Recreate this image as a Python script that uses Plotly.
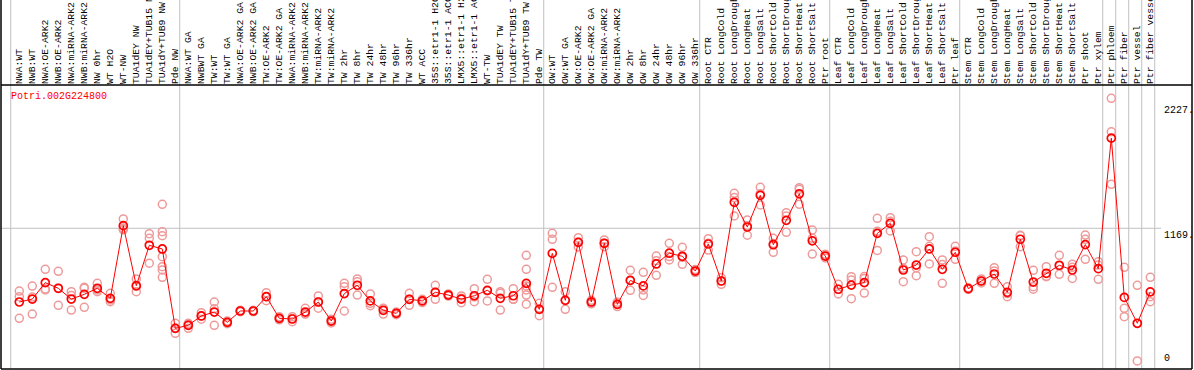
import plotly.graph_objects as go

gene = "Potri.002G224800"

labels = [
    "NWA:WT", "NWB:WT", "NWA:OE-ARK2", "NWB:OE-ARK2", "NWA:miRNA-ARK2", "NWB:miRNA-ARK2",
    "NW 0hr", "WT H2O", "WT-NW", "TUA1dEY NW", "TUA1dEY+TUB15 NW", "TUA1dY+TUB9 NW", "Pde NW",
    "NWA:WT GA", "NWBWT GA", "TW:WT", "TW:WT GA", "NWA:OE-ARK2 GA", "NWB:OE-ARK2 GA",
    "TW:OE-ARK2", "TW:OE-ARK2 GA", "NWA:miRNA-ARK2", "NWB:miRNA-ARK2", "TW:miRNA-ARK2",
    "TW:miRNA-ARK2", "TW 2hr", "TW 8hr", "TW 24hr", "TW 48hr", "TW 96hr", "TW 336hr", "WT ACC",
    "35S::etr1-1 H2O", "35S::etr1-1 ACC", "LMX5::etr1-1 H2O", "LMX5::etr1-1 ACC", "WT-TW",
    "TUA1dEY TW", "TUA1dEY+TUB15 TW", "TUA1dY+TUB9 TW", "Pde TW",
    "OW:WT", "OW:WT GA", "OW:OE-ARK2", "OW:OE-ARK2 GA", "OW:miRNA-ARK2", "OW:miRNA-ARK2",
    "OW 2hr", "OW 8hr", "OW 24hr", "OW 48hr", "OW 96hr", "OW 336hr",
    "Root CTR", "Root LongCold", "Root LongDrought", "Root LongHeat", "Root LongSalt",
    "Root ShortCold", "Root ShortDrought", "Root ShortHeat", "Root ShortSalt", "Ptr root",
    "Leaf CTR", "Leaf LongCold", "Leaf LongDrought", "Leaf LongHeat", "Leaf LongSalt",
    "Leaf ShortCold", "Leaf ShortDrought", "Leaf ShortHeat", "Leaf ShortSalt", "Ptr leaf",
    "Stem CTR", "Stem LongCold", "Stem LongDrought", "Stem LongHeat", "Stem LongSalt",
    "Stem ShortCold", "Stem ShortDrought", "Stem ShortHeat", "Stem ShortSalt", "Ptr shoot",
    "Ptr xylem", "Ptr phloem", "Ptr fiber", "Ptr vessel", "Ptr fiber vessel",
]

group_sizes = [13, 28, 12, 10, 10, 11, 1, 1, 1, 1]

means = [
    545, 570, 709, 661, 570, 610, 661, 576, 1191, 683, 1025, 994, 322,
    348, 427, 460, 373, 469, 469, 590, 407, 401, 460, 545, 384, 616, 687, 554, 475, 449,
    568, 554, 627, 604, 570, 598, 644, 576, 598, 703, 483,
    957, 559, 1050, 545, 1042, 525, 728, 681, 867, 958, 932, 807,
    1036, 723, 1389, 1180, 1448, 1030, 1236, 1461, 1063, 934,
    653, 688, 709, 1126, 1211, 816, 858, 994, 822, 966,
    658, 723, 782, 627, 1076, 714, 788, 856, 816, 1031, 827,
    1932, 584, 365, 631,
]

replicates = [
    [638, 590, 407], [680, 587, 443], [822, 655, 647], [805, 661, 517], [632, 600, 477],
    [661, 670, 500], [703, 647, 632], [619, 562, 548], [1248, 1156, 1169], [740, 677, 632],
    [1123, 1084, 873], [1372, 1140, 1106, 929, 844, 816, 754], [365, 322, 280],
    [365, 357, 322], [455, 427, 399], [545, 487, 348], [385, 373, 361], [475, 469, 463],
    [475, 469, 463], [624, 590, 556], [420, 407, 394], [421, 404, 378], [492, 445, 443],
    [596, 545, 493], [400, 384, 368], [703, 675, 469], [740, 717, 604], [613, 534, 514],
    [492, 490, 443], [460, 449, 438], [619, 568, 517], [568, 554, 540], [686, 627, 568],
    [613, 604, 595], [596, 576, 539], [658, 588, 548], [737, 640, 554], [632, 619, 477],
    [658, 568, 568], [940, 822, 680, 647, 604, 527], [534, 486, 429],
    [1126, 1076, 669], [632, 562, 483], [1089, 1050, 1011], [560, 545, 530],
    [1070, 1042, 1013], [544, 525, 506], [813, 728, 644], [796, 647, 601], [934, 895, 771],
    [1042, 930, 901], [1008, 924, 864], [820, 807, 794],
    [1081, 1042, 985], [750, 723, 695], [1465, 1429, 1273], [1239, 1190, 1110],
    [1516, 1462, 1366], [1084, 1040, 966], [1301, 1273, 1135], [1513, 1499, 1372],
    [1154, 1084, 951], [950, 934, 918],
    [695, 653, 613], [759, 731, 573], [745, 761, 621], [1253, 1143, 982], [1259, 1228, 1146],
    [901, 830, 717], [971, 835, 768], [1098, 1017, 867], [901, 862, 703], [1016, 976, 906],
    [665, 658, 651], [740, 723, 706], [836, 807, 703], [675, 616, 590], [1110, 1105, 1013],
    [813, 675, 653], [844, 762, 759], [940, 849, 779], [864, 839, 745], [1112, 1076, 906],
    [886, 858, 737],
    [2269, 1986, 1541], [839, 492, 421], [686, 363, 46], [754, 590, 548],
]

y_tick_labels = {2227: "2227.", 1169: "1169.", 0: "0"}

# ---------------------------------------------------------------
xs = list(range(1, len(labels) + 1))
rep_x, rep_y = [], []
for xi, reps in zip(xs, replicates):
    for v in reps:
        rep_x.append(xi)
        rep_y.append(v)

W, H = 1194, 370
ML, MR, MT, MB = 1, 2, 85, 1
px_per_x = 13.0
x_first_px = 6.3  # pixel of x=0
x_range = [(ML - x_first_px) / px_per_x, (W - MR - x_first_px) / px_per_x]
y_range = [-22.0, 2381.7]
MONO = "Liberation Mono, DejaVu Sans Mono, monospace"

fig = go.Figure()
fig.add_trace(go.Scatter(
    x=rep_x, y=rep_y, mode="markers",
    marker=dict(symbol="circle-open", size=8, color="#EE9A9A", line=dict(width=1.5)),
    hoverinfo="skip", showlegend=False,
))
fig.add_trace(go.Scatter(
    x=xs, y=means, mode="lines+markers",
    line=dict(color="#FF0000", width=1),
    marker=dict(symbol="circle-open", size=8, color="#FF0000", line=dict(width=1.7)),
    showlegend=False,
))

shapes = []
top_paper = 1 + MT / (H - MT - MB)
pos = 0
div_positions = [0]
for g in group_sizes:
    pos += g
    div_positions.append(pos)
for k in div_positions:
    shapes.append(dict(type="line", xref="x", yref="paper", x0=k + 0.34, x1=k + 0.34,
                       y0=0, y1=top_paper, line=dict(color="#C0C0C0", width=1), layer="below"))
shapes.append(dict(type="line", xref="paper", yref="y", x0=0,
                   x1=(1161 - ML) / (W - ML - MR), y0=1169, y1=1169,
                   line=dict(color="#C0C0C0", width=1), layer="below"))
frame = dict(color="black", width=1.5)
shapes.append(dict(type="line", xref="paper", yref="paper", x0=0, x1=1, y0=1, y1=1, line=frame))
shapes.append(dict(type="line", xref="paper", yref="paper", x0=0, x1=1, y0=0, y1=0, line=frame))
shapes.append(dict(type="line", xref="paper", yref="paper", x0=0, x1=0, y0=0, y1=top_paper, line=frame))
shapes.append(dict(type="line", xref="paper", yref="paper", x0=1, x1=1, y0=0, y1=top_paper, line=frame))

annotations = [dict(
    text=gene, xref="x", yref="y", x=(9.3 - x_first_px) / px_per_x, y=2283,
    xanchor="left", yanchor="middle", showarrow=False,
    font=dict(family=MONO, size=10, color="#FF0000"),
)]
for val, txt in y_tick_labels.items():
    annotations.append(dict(
        text=txt, xref="x", yref="y", x=(1162 - x_first_px) / px_per_x, y=val,
        xanchor="left", yanchor="bottom" if val == 0 else "top", showarrow=False,
        font=dict(family=MONO, size=10, color="black"),
    ))

fig.update_layout(
    width=W, height=H,
    margin=dict(l=ML, r=MR, t=MT, b=MB, pad=0),
    paper_bgcolor="white", plot_bgcolor="white",
    shapes=shapes, annotations=annotations,
    xaxis=dict(
        range=x_range, side="top", tickmode="array", tickvals=xs, ticktext=labels,
        tickangle=-90, ticks="", showgrid=False, zeroline=False, showline=False,
        tickfont=dict(family=MONO, size=9.75, color="black"),
        automargin=False, fixedrange=True,
    ),
    yaxis=dict(
        range=y_range, showticklabels=False, showgrid=False, zeroline=False,
        showline=False, ticks="", automargin=False, fixedrange=True,
    ),
    showlegend=False,
)

fig.write_html(
    "out.html",
    config={"displayModeBar": False, "staticPlot": True},
    post_script="document.body.style.margin='0';document.body.style.overflow='hidden';",
)
